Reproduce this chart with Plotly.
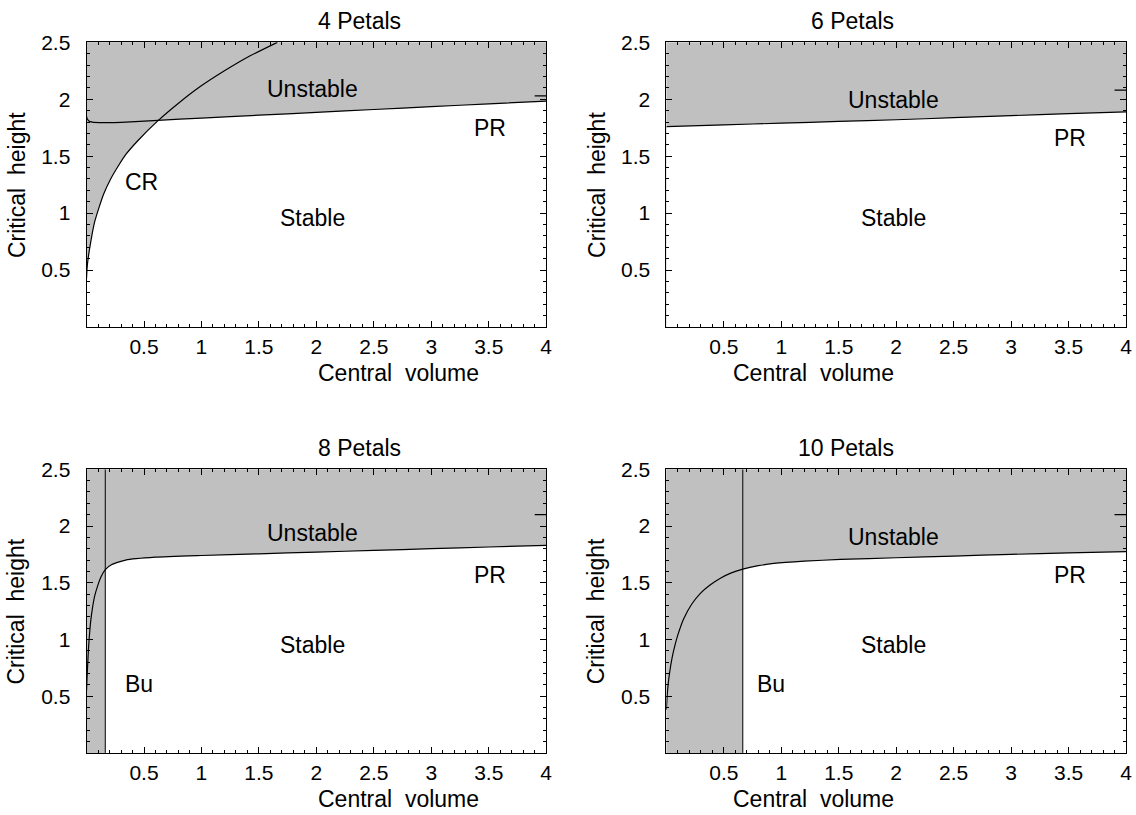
import plotly.graph_objects as go

# ---------------- data ----------------
TITLES = ["4 Petals", "6 Petals", "8 Petals", "10 Petals"]
X_TITLE = "Central\u00a0 volume"
Y_TITLE = "Critical\u00a0 height"
X_RANGE = [0, 4]
Y_RANGE = [0, 2.5]
X_TICKS = [0.5, 1, 1.5, 2, 2.5, 3, 3.5, 4]
X_TICKTEXT = ["0.5", "1", "1.5", "2", "2.5", "3", "3.5", "4"]
Y_TICKS = [0.5, 1, 1.5, 2, 2.5]
Y_TICKTEXT = ["0.5", "1", "1.5", "2", "2.5"]

# 4 petals: PR curve and CR curve
PR4_V = [0, 0.005, 0.02, 0.05, 0.15, 0.3, 0.62, 1.0, 1.5, 2.0, 2.5, 3.0, 3.5, 4.0]
PR4_H = [1.85, 1.83, 1.81, 1.80, 1.795, 1.797, 1.815, 1.835, 1.86, 1.885, 1.91, 1.935, 1.96, 1.983]
CR4_V = [0, 0.005, 0.015, 0.037, 0.07, 0.109, 0.15, 0.21, 0.28, 0.342, 0.45, 0.62, 0.8, 0.98,
         1.2, 1.42, 1.66]
CR4_H = [0.43, 0.52, 0.61, 0.75, 0.92, 1.05, 1.17, 1.30, 1.42, 1.515, 1.64, 1.81, 1.965, 2.105,
         2.25, 2.38, 2.5]

# 6 petals: PR curve
PR6_V = [0, 0.5, 1, 1.5, 2, 2.5, 3, 3.5, 4]
PR6_H = [1.76, 1.775, 1.79, 1.805, 1.82, 1.838, 1.856, 1.873, 1.89]

# 8 petals: PR curve and buckling limit
PR8_V = [0, 0.004, 0.009, 0.017, 0.024, 0.035, 0.052, 0.07, 0.096, 0.125, 0.163, 0.22, 0.34,
         0.6, 1.0, 1.5, 2.0, 2.5, 3.0, 3.5, 4.0]
PR8_H = [0.55, 0.65, 0.76, 0.92, 1.02, 1.15, 1.28, 1.38, 1.47, 1.55, 1.615, 1.66, 1.70,
         1.725, 1.74, 1.755, 1.77, 1.785, 1.80, 1.815, 1.83]
BU8 = 0.163

# 10 petals: PR curve and buckling limit
PR10_V = [0, 0.006, 0.015, 0.03, 0.05, 0.075, 0.10, 0.15, 0.22, 0.30, 0.38, 0.47, 0.56, 0.665,
          0.8, 0.935, 1.2, 1.516, 2.0, 2.5, 3.0, 3.5, 4.0]
PR10_H = [0.38, 0.49, 0.60, 0.72, 0.84, 0.95, 1.04, 1.18, 1.31, 1.41, 1.48, 1.54, 1.585, 1.62,
          1.65, 1.67, 1.69, 1.705, 1.72, 1.735, 1.75, 1.763, 1.775]
BU10 = 0.665

# short key marks at right edge of each panel (v start, v end, h)
KEY_MARKS = [(3.9, 4.0, 2.03), (3.9, 4.0, 2.08), (3.9, 4.0, 2.10), (3.9, 4.0, 2.10)]

# region labels per panel: (text, v, h)
LABELS = [
    [("Unstable", 1.97, 2.09), ("PR", 3.51, 1.75), ("CR", 0.48, 1.27), ("Stable", 1.97, 0.96)],
    [("Unstable", 1.98, 1.99), ("PR", 3.51, 1.66), ("Stable", 1.98, 0.96)],
    [("Unstable", 1.97, 1.94), ("PR", 3.51, 1.57), ("Stable", 1.97, 0.95), ("Bu", 0.46, 0.61)],
    [("Unstable", 1.98, 1.90), ("PR", 3.51, 1.57), ("Stable", 1.98, 0.95), ("Bu", 0.91, 0.61)],
]

# ---------------- style ----------------
W, H = 1136, 815
GRAY = "#c0c0c0"
FONT = "Liberation Sans, Arial, sans-serif"
TICK_SIZE = 21
LABEL_SIZE = 23
TITLE_SIZE = 23
AXT_SIZE = 23

# viewer calibration (final pixel = A * layout pixel + B)
AX, BX, AY, BY = 0.9933, 0.58, 0.9831, 12.73

def px(P):
    return (P - BX) / AX

def py(P):
    return (P - BY) / AY

# panel boxes in final pixels: (left, right, top, bottom)
BOXES = [(87, 546, 43, 327), (666, 1125, 43, 327), (87, 546, 469, 752), (666, 1125, 469, 752)]

fig = go.Figure()

def ax_names(i):
    s = "" if i == 0 else str(i + 1)
    return "x" + s, "y" + s, "xaxis" + s, "yaxis" + s

line_style = dict(color="black", width=1.2, shape="spline", smoothing=0.5)
fill_line = dict(width=0, shape="spline", smoothing=0.5)

for i in range(4):
    xr, yr, xa, ya = ax_names(i)
    l, r, t, b = BOXES[i]
    axis_common = dict(showline=True, linecolor="black", linewidth=1, mirror="ticks",
                       ticks="inside", ticklen=6, tickwidth=1, tickcolor="black",
                       showgrid=False, zeroline=False,
                       tickfont=dict(family=FONT, size=TICK_SIZE, color="black"),
                       minor=dict(ticks="inside", ticklen=3, tickwidth=1, tickcolor="black",
                                  tickmode="linear", tick0=0, dtick=0.1, showgrid=False))
    fig.layout[xa] = dict(axis_common, domain=[px(l) / W, px(r) / W], range=X_RANGE, anchor=yr,
                          tickmode="array", tickvals=X_TICKS, ticktext=X_TICKTEXT,
                          ticklabelstandoff=1)
    fig.layout[ya] = dict(axis_common, domain=[(H - py(b)) / H, (H - py(t)) / H], range=Y_RANGE,
                          anchor=xr, tickmode="array", tickvals=Y_TICKS, ticktext=Y_TICKTEXT,
                          ticklabelstandoff=11)

    if i == 0:
        fig.add_trace(go.Scatter(x=PR4_V, y=PR4_H, xaxis=xr, yaxis=yr, mode="lines", line=fill_line,
                                 fill="tozeroy", fillcolor="white", hoverinfo="skip"))
        fig.add_trace(go.Scatter(x=CR4_V + [X_RANGE[0]], y=CR4_H + [Y_RANGE[1]], xaxis=xr, yaxis=yr,
                                 mode="none", fill="toself", fillcolor=GRAY, hoverinfo="skip"))
        fig.add_trace(go.Scatter(x=PR4_V, y=PR4_H, xaxis=xr, yaxis=yr, mode="lines", line=line_style))
        fig.add_trace(go.Scatter(x=CR4_V, y=CR4_H, xaxis=xr, yaxis=yr, mode="lines", line=line_style))
    elif i == 1:
        fig.add_trace(go.Scatter(x=PR6_V, y=PR6_H, xaxis=xr, yaxis=yr, mode="lines", line=fill_line,
                                 fill="tozeroy", fillcolor="white", hoverinfo="skip"))
        fig.add_trace(go.Scatter(x=PR6_V, y=PR6_H, xaxis=xr, yaxis=yr, mode="lines", line=line_style))
    else:
        pv, ph, bu = (PR8_V, PR8_H, BU8) if i == 2 else (PR10_V, PR10_H, BU10)
        fig.add_trace(go.Scatter(x=pv, y=ph, xaxis=xr, yaxis=yr, mode="lines", line=fill_line,
                                 fill="tozeroy", fillcolor="white", hoverinfo="skip"))
        fig.add_trace(go.Scatter(x=[X_RANGE[0], bu, bu, X_RANGE[0]],
                                 y=[Y_RANGE[0], Y_RANGE[0], Y_RANGE[1], Y_RANGE[1]],
                                 xaxis=xr, yaxis=yr, mode="none", fill="toself",
                                 fillcolor=GRAY, hoverinfo="skip"))
        fig.add_trace(go.Scatter(x=pv, y=ph, xaxis=xr, yaxis=yr, mode="lines", line=line_style))
        fig.add_trace(go.Scatter(x=[bu, bu], y=Y_RANGE, xaxis=xr, yaxis=yr, mode="lines",
                                 line=dict(color="black", width=1)))
    k0, k1, kh = KEY_MARKS[i]
    fig.add_trace(go.Scatter(x=[k0, k1], y=[kh, kh], xaxis=xr, yaxis=yr, mode="lines",
                             line=dict(color="black", width=1.2)))

    for txt, v, hgt in LABELS[i]:
        fig.add_annotation(x=v, y=hgt, xref=xr, yref=yr, text=txt, showarrow=False,
                           font=dict(family=FONT, size=LABEL_SIZE, color="black"))

    cx = px((l + r) / 2) / W
    fig.add_annotation(x=cx, y=(H - py(t - 21.5)) / H, xref="paper", yref="paper", text=TITLES[i],
                       showarrow=False, yanchor="middle",
                       font=dict(family=FONT, size=TITLE_SIZE, color="black"))
    fig.add_annotation(x=cx, y=(H - py(b + 46)) / H, xref="paper", yref="paper", text=X_TITLE,
                       showarrow=False, yanchor="middle",
                       font=dict(family=FONT, size=AXT_SIZE, color="black"))
    fig.add_annotation(x=px(l - 70) / W, y=(H - py((t + b) / 2)) / H, xref="paper", yref="paper",
                       text=Y_TITLE, showarrow=False, textangle=-90, xanchor="center",
                       yanchor="middle",
                       font=dict(family=FONT, size=AXT_SIZE, color="black"))

fig.update_layout(width=W, height=H, margin=dict(l=0, r=0, t=0, b=0),
                  plot_bgcolor=GRAY, paper_bgcolor="white", showlegend=False)

POST = ("document.documentElement.style.overflow='hidden';"
        "document.body.style.margin='0px';document.body.style.overflow='hidden';"
        "var d=document.getElementById('{plot_id}');"
        "d.style.position='fixed';d.style.left='0px';d.style.top='0px';")

fig.write_html("out.html", config={"displayModeBar": False}, post_script=POST)
